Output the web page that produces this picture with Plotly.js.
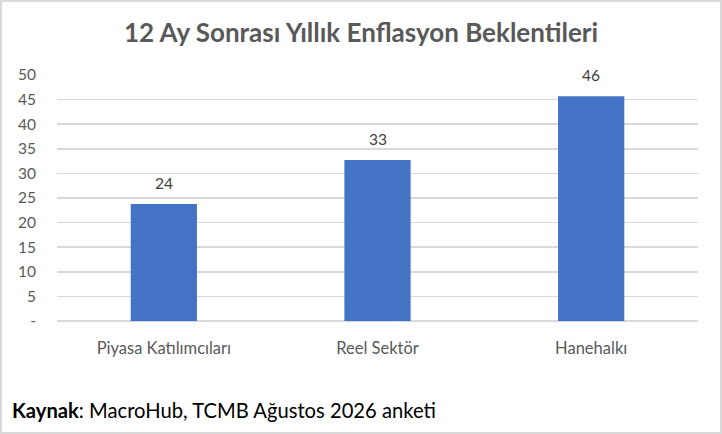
<!DOCTYPE html>
<html><head><meta charset="utf-8">
<script src="https://cdn.plot.ly/plotly-3.0.1.min.js"></script>
<style>
html,body{margin:0;padding:0;background:#fff;}
#wrap{width:722px;height:434px;box-sizing:border-box;border:2px solid #d9d9d9;}
#chart{width:718px;height:430px;}
</style></head>
<body><div id="wrap"><div id="chart"></div></div>
<script>
const categories = ['Piyasa Katılımcıları', 'Reel Sektör', 'Hanehalkı'];
const values = [23.8, 32.7, 45.7];
const valueLabels = ['24', '33', '46'];
const yTickVals = [0, 5, 10, 15, 20, 25, 30, 35, 40, 45, 50];
const yTickText = ['-', '5', '10', '15', '20', '25', '30', '35', '40', '45', '50'];
const titleText = '12 Ay Sonrası Yıllık Enflasyon Beklentileri';
const sourceText = '<b>Kaynak</b>: MacroHub, TCMB Ağustos 2026 anketi';

const FONT = 'Lato, "Open Sans", sans-serif';
const trace = {
  type: 'bar', x: categories, y: values,
  marker: {color: '#4472C4'}, width: 0.31, hoverinfo: 'none'
};
const labelAnns = categories.map((c, i) => ({
  x: c, y: values[i], xref: 'x', yref: 'y', text: valueLabels[i],
  showarrow: false, yanchor: 'bottom', xanchor: 'center', yshift: 10,
  font: {family: FONT, size: 15.5, color: '#404040'}
}));
const layout = {
  width: 718, height: 430,
  margin: {l: 55, r: 22, t: 73, b: 111},
  paper_bgcolor: '#fff', plot_bgcolor: '#fff',
  font: {family: FONT},
  title: {text: '<b>' + titleText + '</b>', font: {family: FONT, size: 26, color: '#595959'},
          x: 0.5, xanchor: 'center', y: 1 - 31/430, yref: 'container', yanchor: 'middle'},
  showlegend: false,
  xaxis: {type: 'category', showline: false, ticks: '', showgrid: false, zeroline: false,
          tickfont: {family: FONT, size: 16.5, color: '#595959'}, ticklabelstandoff: 15},
  yaxis: {range: [0, 50], tickvals: yTickVals, ticktext: yTickText, showgrid: true,
          gridcolor: '#d9d9d9', gridwidth: 1.5, zeroline: true, zerolinecolor: '#d9d9d9', zerolinewidth: 1.5,
          showline: false, ticks: '', tickfont: {family: FONT, size: 15.5, color: '#595959'}, ticklabelstandoff: 20},
  annotations: labelAnns.concat([{text: sourceText, xref: 'paper', yref: 'paper', x: -0.0733, y: -0.362,
                 xanchor: 'left', yanchor: 'middle', showarrow: false,
                 font: {family: FONT, size: 20.2, color: '#000'}}])
};
Plotly.newPlot('chart', [trace], layout, {displayModeBar: false, staticPlot: true});
</script></body></html>
